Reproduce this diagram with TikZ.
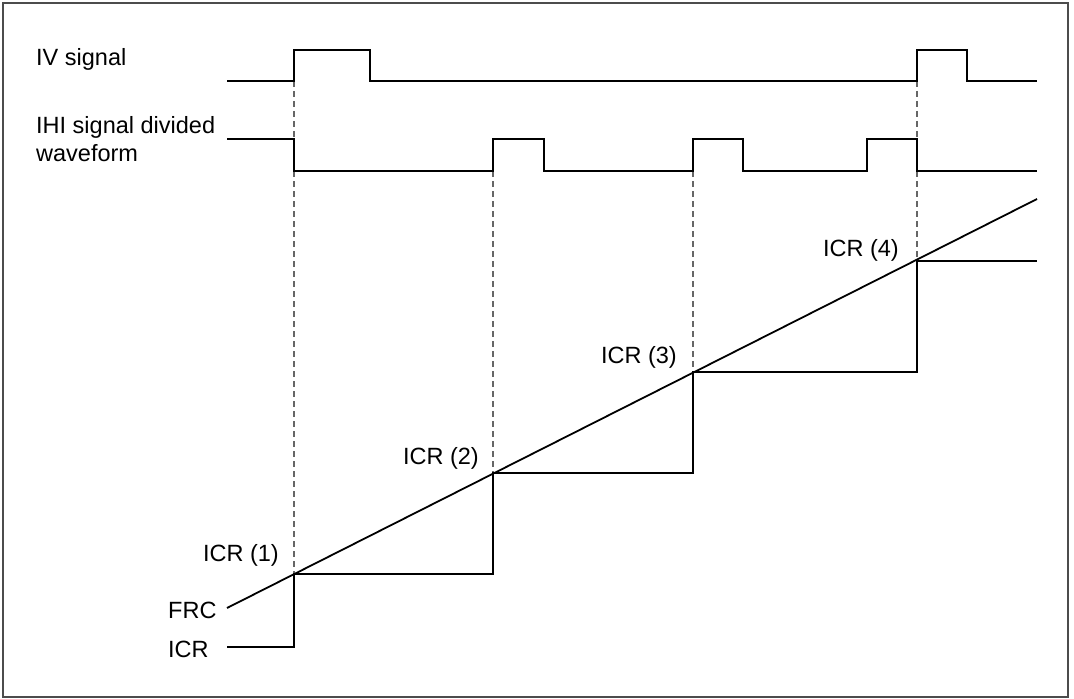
\documentclass[tikz,border=0pt]{standalone}
\usepackage{fontspec}
\setmainfont{Liberation Sans}
\begin{document}
\begin{tikzpicture}[x=1bp,y=-1bp,
  wave/.style={line width=1.8bp,black,line join=miter},
  guide/.style={line width=1.1bp,gray!80!black,dash pattern=on 6bp off 4bp},
  frame/.style={line width=1.6bp,black!70},
  lbl/.style={inner sep=0pt,font=\fontsize{23.5bp}{28bp}\selectfont}]
\useasboundingbox (0,0) rectangle (1074,699);
\draw[frame] (3,3) rectangle (1068,697);
% labels
\node[lbl,anchor=base west] (iv) at (36,66) {IV signal};
\node[lbl,anchor=base west,align=left] (ihi) at (36,162) {IHI signal divided\\waveform};
\node[lbl,anchor=base west] (frc) at (168,618) {FRC};
\node[lbl,anchor=base west] (icr) at (168,657) {ICR};
\node[lbl,anchor=base east] (c1) at (279,561) {ICR (1)};
\node[lbl,anchor=base east] (c2) at (479,464) {ICR (2)};
\node[lbl,anchor=base east] (c3) at (677,363) {ICR (3)};
\node[lbl,anchor=base east] (c4) at (899,256) {ICR (4)};
% key coordinates
\coordinate (ivs) at (227,81);
\coordinate (ive) at (1037,81);
\coordinate (frcs) at (227,608);
\coordinate (frce) at (1037,199);
\coordinate (icrs) at (227,647);
\coordinate (p1) at (294,574);
\coordinate (p2) at (493,473);
\coordinate (p3) at (693,372);
\coordinate (p4) at (917,261);
% guides
\draw[guide] (294,81) -- (p1);
\draw[guide] (493,171) -- (p2);
\draw[guide] (693,171) -- (p3);
\draw[guide] (917,81) -- (p4);
% IV signal
\draw[wave] (ivs) -- (294,81) -- (294,50) -- (370,50) -- (370,81) -- (917,81) -- (917,50) -- (967,50) -- (967,81) -- (ive);
% IHI divided waveform
\draw[wave] (227,139) -- (294,139) -- (294,171) -- (493,171) -- (493,139) -- (544,139) -- (544,171)
  -- (693,171) -- (693,139) -- (743,139) -- (743,171) -- (867,171) -- (867,139) -- (917,139) -- (917,171) -- (1037,171);
% FRC
\draw[wave] (frcs) -- (frce);
% ICR
\draw[wave] (icrs) -- (294,647) -- (p1) -- (493,574) -- (p2) -- (693,473) -- (p3) -- (917,372) -- (p4) -- (1037,261);
\end{tikzpicture}
\end{document}
